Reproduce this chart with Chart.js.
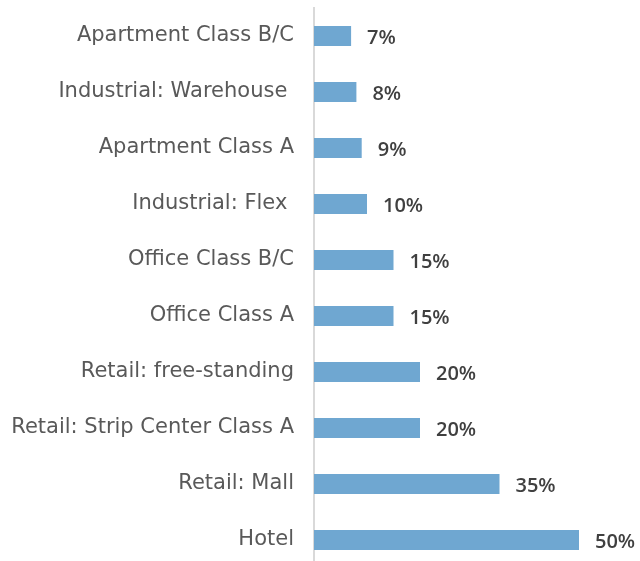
<!DOCTYPE html>
<html>
<head>
<meta charset="utf-8">
<script src="https://cdn.jsdelivr.net/npm/chart.js@4/dist/chart.umd.min.js"></script>
<style>
	html, body { margin: 0; padding: 0; background: #fff; overflow: hidden; }
</style>
</head>
<body>
<canvas id="capRates" width="640" height="570"></canvas>
<script>
const categories = [
	"Apartment Class B/C",
	"Industrial: Warehouse ",
	"Apartment Class A",
	"Industrial: Flex ",
	"Office Class B/C",
	"Office Class A",
	"Retail: free-standing",
	"Retail: Strip Center Class A",
	"Retail: Mall",
	"Hotel"
];
const values = [7, 8, 9, 10, 15, 15, 20, 20, 35, 50];
const valueLabels = ["7%", "8%", "9%", "10%", "15%", "15%", "20%", "20%", "35%", "50%"];

const fontFamily = "'DejaVu Sans', sans-serif";

/* draw the percent text to the right of each bar */
const valueLabelPlugin = {
	id: "valueLabels",
	afterDatasetsDraw(chart) {
		const ctx = chart.ctx;
		const meta = chart.getDatasetMeta(0);
		ctx.save();
		ctx.font = "600 20px 'Open Sans', sans-serif";
		ctx.fillStyle = "#404040";
		ctx.textAlign = "left";
		ctx.textBaseline = "middle";
		meta.data.forEach((bar, i) => {
			ctx.fillText(valueLabels[i], bar.x + 16, bar.y + 2);
		});
		ctx.restore();
	}
};

const ctx = document.getElementById("capRates").getContext("2d");
new Chart(ctx, {
	type: "bar",
	data: {
		labels: categories,
		datasets: [
			{
				data: values,
				backgroundColor: "#6fa7d1",
				borderWidth: 0,
				categoryPercentage: 1,
				barPercentage: 0.36
			}
		]
	},
	options: {
		indexAxis: "y",
		responsive: false,
		animation: false,
		layout: { padding: { top: 8, bottom: 2, right: 8, left: 0 } },
		plugins: {
			legend: { display: false },
			tooltip: { enabled: false }
		},
		scales: {
			x: {
				min: 0,
				max: 60,
				display: false
			},
			y: {
				afterFit(scale) {
					scale.width = 314;
					scale.paddingTop = 0;
					scale.paddingBottom = 0;
				},
				grid: { display: false, drawTicks: false },
				border: { display: true, color: "#d9d9d9", width: 2 },
				ticks: {
					padding: 20,
					color: "#595959",
					font: { family: fontFamily, size: 21 }
				}
			}
		}
	},
	plugins: [valueLabelPlugin]
});
</script>
</body>
</html>
